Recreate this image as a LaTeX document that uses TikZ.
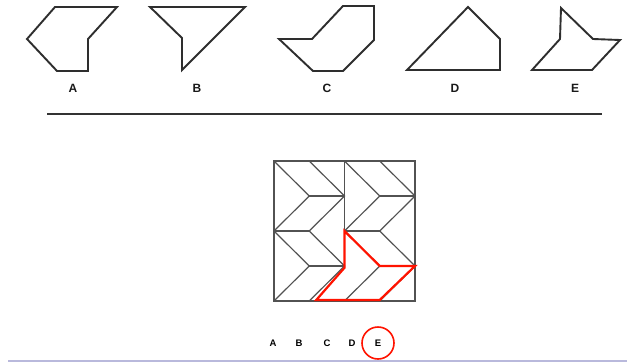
\documentclass[tikz,border=0pt]{standalone}
\usepackage{fontspec}
\setmainfont{Liberation Sans}
\begin{document}
\begin{tikzpicture}[x=1pt,y=-1pt,
  piece/.style={draw=black!82, line width=1.9pt, line join=miter},
  gridline/.style={draw=black!68, line width=1.2pt},
  redpiece/.style={draw=red!85!orange, line width=2.2pt, line join=miter},
  lbl/.style={font=\fontsize{12}{12}\selectfont\bfseries, text=black!90, inner sep=0pt},
  smlbl/.style={font=\fontsize{9.5}{9.5}\selectfont\bfseries, text=black, inner sep=0pt}]
\useasboundingbox (0,0) rectangle (627,362);
\fill[white] (0,0) rectangle (627,362);
% answer shapes
\draw[piece] (55,7) -- (117,7) -- (88,39) -- (88,71) -- (57,71) -- (27,39) -- cycle;
\draw[piece] (150,7) -- (245,7) -- (182,70) -- (182,38) -- cycle;
\draw[piece] (279,39) -- (312,39) -- (343,6) -- (374,6) -- (374,40) -- (343,71) -- (313,71) -- cycle;
\draw[piece] (468,7) -- (500,39) -- (500,70) -- (407,70) -- cycle;
\draw[piece] (561,8) -- (593,39) -- (620,40) -- (592,70) -- (532,70) -- (560,39) -- cycle;
\node[lbl] (la) at (73,88) {A};
\node[lbl] (lb) at (197,88) {B};
\node[lbl] (lc) at (327,88) {C};
\node[lbl] (ld) at (455,88) {D};
\node[lbl] (le) at (575,88) {E};
% separator
\draw[draw=black!80, line width=1.8pt] (47,114) -- (602,114);
% grid
\begin{scope}[shift={(274,161)}, x=35.25pt, y=-35pt]
  \draw[gridline] (0,0) rectangle (4,4);
  \draw[gridline] (2,0) -- (2,2);
  \foreach \ox/\oy in {0/0,2/0,0/2,2/2}{
    \begin{scope}[shift={(\ox,\oy)}]
      \draw[gridline] (0,0) -- (1,1) -- (0,2);
      \draw[gridline] (1,1) -- (2,1);
      \draw[gridline] (1,0) -- (2,1) -- (1,2);
      \draw[gridline] (0,2) -- (1,2);
    \end{scope}
  }
  \draw[redpiece] (2,2) -- (3,3) -- (4,3) -- (3,3.97) -- (1.2,3.97) -- (2,3.05) -- cycle;
\end{scope}
% choices
\node[smlbl] (ca) at (273,343) {A};
\node[smlbl] (cb) at (299,343) {B};
\node[smlbl] (cc) at (327,343) {C};
\node[smlbl] (cd) at (352,343) {D};
\node[smlbl] (ce) at (378,343) {E};
\draw[red!85!orange, line width=1.6pt] (ce) circle (16);
% bottom strip
\draw[draw={rgb,255:red,185;green,185;blue,220}, line width=1.2pt] (8,361) -- (627,361);
\end{tikzpicture}
\end{document}
